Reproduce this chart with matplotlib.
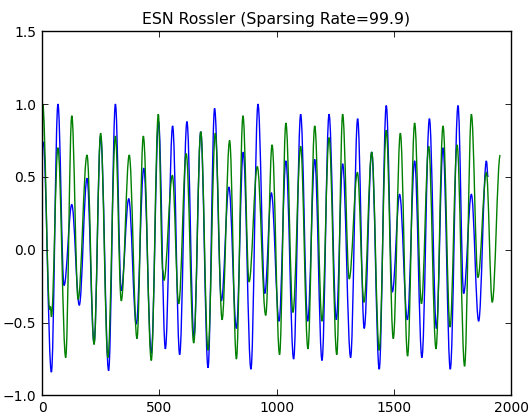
import matplotlib
matplotlib.use("Agg")
import matplotlib.pyplot as plt
from matplotlib.path import Path
from matplotlib.patches import PathPatch

# Turning points (time step, value) of the target Rossler signal
target_t = [0, 5, 40, 68, 94, 127, 159, 192, 222, 250, 284, 313, 338, 370, 402,
            434, 466, 497, 526, 557, 587, 618, 648, 677, 708, 736, 765, 797, 829,
            858, 891, 921, 950, 978, 1011, 1040, 1073, 1103, 1133, 1163, 1194,
            1224, 1255, 1282, 1316, 1346, 1374, 1406, 1438, 1468, 1494, 1525,
            1558, 1589, 1620, 1652, 1682, 1710, 1741, 1774, 1798, 1831, 1862,
            1895, 1902]
target_v = [0.70, 0.74, -0.84, 1.00, -0.245, 0.31, -0.38, 0.49, -0.64, 0.78,
            -0.83, 1.00, -0.28, 0.35, -0.51, 0.56, -0.71, 0.88, -0.68, 0.85,
            -0.72, 0.88, -0.60, 0.81, -0.81, 0.97, -0.35, 0.43, -0.54, 0.67,
            -0.82, 1.00, -0.30, 0.39, -0.49, 0.61, -0.75, 0.93, -0.49, 0.62,
            -0.76, 0.93, -0.48, 0.59, -0.74, 0.90, -0.54, 0.67, -0.82, 0.99,
            -0.29, 0.38, -0.48, 0.61, -0.74, 0.90, -0.54, 0.70, -0.82, 0.99,
            -0.30, 0.38, -0.49, 0.61, 0.50]

# Turning points of the ESN prediction
esn_t = [0, 3, 33, 36, 40, 68, 101, 127, 154, 192, 222, 250, 281, 313, 338,
         372, 405, 432, 466, 496, 515, 520, 556, 583, 615, 647, 677, 708, 739,
         768, 800, 829, 857, 883, 918, 954, 981, 1013, 1040, 1070, 1103, 1134,
         1163, 1194, 1224, 1257, 1282, 1310, 1345, 1373, 1406, 1438, 1468,
         1498, 1528, 1559, 1589, 1618, 1649, 1680, 1710, 1740, 1770, 1802,
         1831, 1859, 1895, 1920, 1954]
esn_v = [0.35, 1.00, -0.41, -0.39, -0.46, 0.70, -0.74, 0.92, -0.34, 0.65,
         -0.65, 0.80, -0.74, 0.78, -0.35, 0.65, -0.61, 0.78, -0.76, 0.93,
         -0.14, -0.21, 0.51, -0.37, 0.66, -0.64, 0.81, -0.69, 0.80, -0.48,
         0.75, -0.75, 0.92, -0.22, 0.57, -0.45, 0.72, -0.72, 0.87, -0.43,
         0.71, -0.68, 0.85, -0.49, 0.77, -0.72, 0.93, -0.20, 0.53, -0.36,
         0.67, -0.69, 0.82, -0.61, 0.80, -0.73, 0.87, -0.37, 0.71, -0.68,
         0.85, -0.53, 0.72, -0.80, 0.93, -0.19, 0.53, -0.36, 0.65]

x_ticks = [0, 500, 1000, 1500, 2000]
y_ticks = [-1.0, -0.5, 0.0, 0.5, 1.0, 1.5]
title = "ESN Rossler (Sparsing Rate=99.9)"


def wave_path(t, v, k=0.364):
    """Smooth curve through turning points (flat tangent at each point)."""
    verts = [(t[0], v[0])]
    codes = [Path.MOVETO]
    for i in range(len(t) - 1):
        dt = t[i + 1] - t[i]
        verts += [(t[i] + k * dt, v[i]), (t[i + 1] - k * dt, v[i + 1]),
                  (t[i + 1], v[i + 1])]
        codes += [Path.CURVE4] * 3
    return Path(verts, codes)


fig = plt.figure(figsize=(5.29, 4.16), dpi=100)
ax = fig.add_axes([0.0794, 0.0495, 0.8866, 0.8753])

ax.add_patch(PathPatch(wave_path(target_t, target_v), fill=False,
                       edgecolor="b", linewidth=1.0))
ax.add_patch(PathPatch(wave_path(esn_t, esn_v), fill=False,
                       edgecolor="g", linewidth=1.0))

ax.set_xlim(0, 2000)
ax.set_ylim(-1.0, 1.5)
ax.set_xticks(x_ticks)
ax.set_yticks(y_ticks)
ax.tick_params(direction="in", top=True, right=True, length=4, width=0.6,
               labelsize=10, pad=4)
for s in ax.spines.values():
    s.set_linewidth(1.0)
ax.set_title(title, fontsize=11.3, pad=5)

fig.savefig("out.png", dpi=100)
